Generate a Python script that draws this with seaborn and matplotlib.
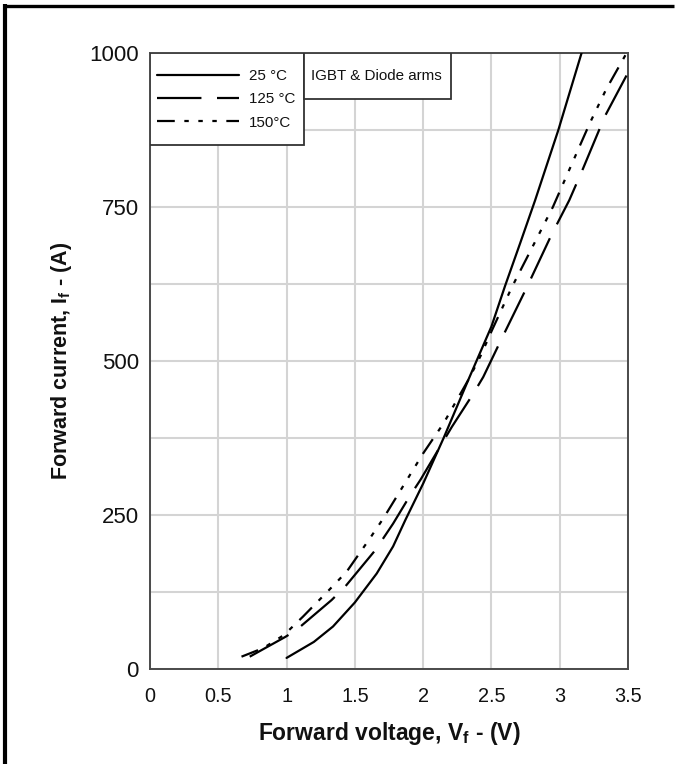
# Forward characteristic of IGBT & diode arms at three temperatures
import numpy as np
import pandas as pd
import matplotlib
matplotlib.use('Agg')
import matplotlib.pyplot as plt
import seaborn as sns
from matplotlib import font_manager
from matplotlib.lines import Line2D
from matplotlib.patches import Rectangle
from matplotlib.ticker import MultipleLocator

# Values (V, A)
v_25 = [1.0, 1.2, 1.34, 1.5, 1.66, 1.78, 1.87, 2.0, 2.15, 2.33, 2.5, 2.6, 2.71, 2.82, 2.99, 3.16]
i_25 = [18, 44, 69, 108, 155, 199, 242, 301, 375, 469, 556, 622, 691, 761, 875, 1000]

v_125 = [0.73, 0.99, 1.07, 1.33, 1.43, 1.65, 1.78, 1.9, 1.98, 2.21, 2.37, 2.44, 2.57, 2.76,
         2.94, 3.07, 3.17, 3.33, 3.5]
i_125 = [20, 52, 63, 112, 134, 193, 236, 280, 307, 393, 448, 474, 534, 620,
         705, 761, 812, 897, 968]

v_150 = [0.67, 0.83, 0.98, 1.12, 1.31, 1.44, 1.61, 1.71, 2.0, 2.15, 2.33, 2.42, 2.5, 2.65, 2.8,
         2.95, 3.22, 3.34, 3.49]
i_150 = [20, 34, 55, 85, 128, 158, 212, 245, 350, 399, 469, 508, 548, 620, 685,
         750, 886, 941, 1000]

labels = ['25 °C', '125 °C', '150°C']
note = 'IGBT & Diode arms'
x_ticks = [0, 0.5, 1, 1.5, 2, 2.5, 3, 3.5]
x_tick_labels = ['0', '0.5', '1', '1.5', '2', '2.5', '3', '3.5']
y_ticks = [0, 250, 500, 750, 1000]

# Theme first, then fonts
sns.set_theme(style='white')
plt.rcParams['font.family'] = ['Liberation Sans', 'DejaVu Sans']
plt.rcParams['mathtext.fontset'] = 'custom'
plt.rcParams['mathtext.rm'] = 'Liberation Sans'
plt.rcParams['mathtext.bf'] = 'Liberation Sans:bold'

names = {f.name for f in font_manager.fontManager.ttflist}
if 'Liberation Sans Narrow' in names:
    narrow, nscale = 'Liberation Sans Narrow', 1.0
else:
    narrow, nscale = 'Liberation Sans', 0.84

fig = plt.figure(figsize=(6.82, 7.64), dpi=100)
ax = fig.add_axes([150 / 682, 95 / 764, 478 / 682, 616 / 764])

# Draw the three curves
styles = ['-', (0, (20, 7)), (0, (8, 4.3, 2, 4.3, 2, 4.3, 2, 4.3))]
series = [(v_25, i_25), (v_125, i_125), (v_150, i_150)]
for (v, i), lab, ls in zip(series, labels, styles):
    sns.lineplot(x=v, y=i, ax=ax, color='black', lw=1.6, linestyle=ls, label=lab,
                 sort=False, estimator=None, zorder=3)

# Axes limits, grid and ticks
ax.set_xlim(0, 3.5)
ax.set_ylim(0, 1000)
ax.set_xticks(x_ticks)
ax.set_xticklabels(x_tick_labels)
ax.set_yticks(y_ticks)
ax.yaxis.set_minor_locator(MultipleLocator(125))
ax.grid(which='both', color='#d4d4d4', lw=1.5, zorder=0)
ax.set_axisbelow(True)
ax.tick_params(which='both', length=0)
ax.tick_params(axis='y', pad=8, labelsize=16, labelcolor='#111111')
ax.tick_params(axis='x', pad=13, labelsize=17 * nscale, labelcolor='#111111')
for t in ax.get_xticklabels():
    t.set_fontfamily(narrow)

for s in ax.spines.values():
    s.set_color('#4a4a4a')
    s.set_linewidth(1.4)

# Axis labels
ax.set_xlabel(r'Forward voltage, V$_\mathbf{f}$ - (V)', fontsize=16.5, fontweight='bold',
              labelpad=10, color='#111111')
ax.set_ylabel(r'Forward current, I$_\mathbf{f}$ - (A)', fontsize=15.5, fontweight='bold',
              labelpad=11, color='#111111')

# Legend box in the top left corner
leg_w = 154 / 478
leg_h = 92 / 616
ax.add_patch(Rectangle((0, 1 - leg_h), leg_w, leg_h, transform=ax.transAxes,
                       facecolor='white', edgecolor='#333333', lw=1.3, zorder=5))
leg = ax.legend(loc='upper left', bbox_to_anchor=(7 / 478, 1 - 16 / 616), borderaxespad=0,
                frameon=False, prop={'family': narrow, 'size': 13 * nscale},
                handlelength=5.4, handletextpad=0.65, labelspacing=0.62, borderpad=0)
leg.set_zorder(6)
for t in leg.get_texts():
    t.set_color('#111111')

# Note box next to the legend
box_w = 147 / 478
box_h = 46 / 616
ax.add_patch(Rectangle((leg_w, 1 - box_h), box_w, box_h, transform=ax.transAxes,
                       facecolor='white', edgecolor='#333333', lw=1.3, zorder=5))
ax.text(leg_w + 7 / 478, 1 - 23 / 616, note, transform=ax.transAxes, ha='left', va='center',
        fontsize=13 * nscale, fontfamily=narrow, color='#111111', zorder=6)

# Black frame on the left and top edges of the picture
fig.add_artist(Line2D([5 / 682, 5 / 682], [0, 1 - 3.5 / 764], color='black', lw=3,
                      solid_capstyle='butt', transform=fig.transFigure))
fig.add_artist(Line2D([3 / 682, 674 / 682], [1 - 5.5 / 764, 1 - 5.5 / 764], color='black', lw=2.4,
                      solid_capstyle='butt', transform=fig.transFigure))

fig.savefig('out.png', dpi=100, facecolor='white')
